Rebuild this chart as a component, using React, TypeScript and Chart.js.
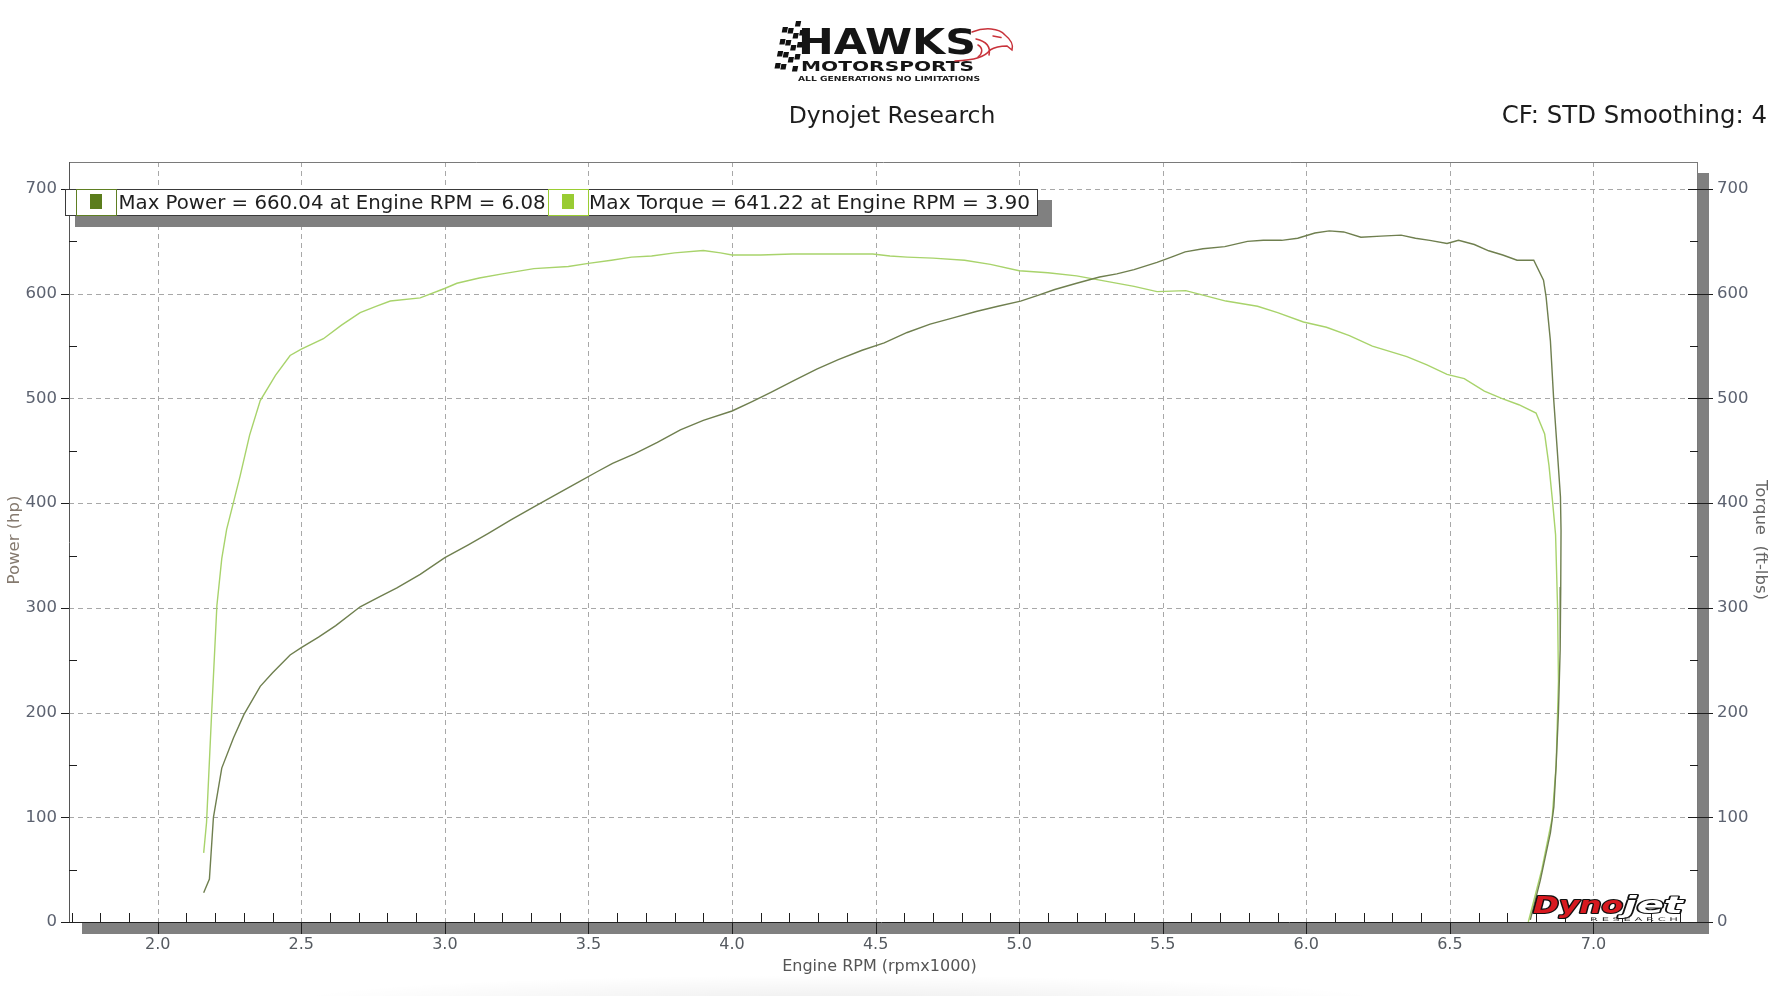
import React, { useEffect, useRef } from 'react';
import { Chart, registerables } from 'chart.js';

Chart.register(...registerables);

// ---------------- data ----------------
const powerRpm = [2.160, 2.180, 2.194, 2.223, 2.264, 2.300, 2.357, 2.400, 2.461, 2.500, 2.560, 2.620, 2.705, 2.775, 2.833, 2.914, 3.000, 3.080, 3.150, 3.230, 3.307, 3.385, 3.465, 3.530, 3.584, 3.660, 3.740, 3.820, 3.900, 4.000, 4.070, 4.137, 4.215, 4.295, 4.370, 4.453, 4.530, 4.610, 4.690, 4.770, 4.850, 4.926, 5.005, 5.060, 5.124, 5.200, 5.280, 5.340, 5.400, 5.480, 5.530, 5.578, 5.640, 5.716, 5.795, 5.850, 5.914, 5.970, 6.030, 6.080, 6.130, 6.190, 6.260, 6.330, 6.380, 6.430, 6.490, 6.530, 6.585, 6.635, 6.684, 6.734, 6.792, 6.826, 6.835, 6.850, 6.861, 6.873, 6.885, 6.887, 6.886, 6.884, 6.878, 6.870, 6.862, 6.850, 6.815, 6.780];
const powerHp = [28, 41, 100, 147, 176, 198, 225, 238, 255, 262, 272, 283, 301, 311, 319, 332, 348, 360, 371, 384, 396, 408, 420, 430, 438, 447, 458, 470, 479, 488, 497, 506, 517, 528, 537, 546, 553, 563, 571, 577, 583, 588, 593, 598, 604, 610, 616, 619, 623, 630, 635, 640, 643, 645, 650, 651, 651, 653, 658, 660.04, 659, 654, 655, 656, 653, 651, 648, 651, 647, 641, 637, 632, 632, 613, 597, 555, 501, 454, 406, 374, 320, 260, 200, 150, 110, 85, 40, 2];

const torqueRpm = [2.160, 2.170, 2.188, 2.206, 2.223, 2.240, 2.264, 2.287, 2.320, 2.357, 2.410, 2.461, 2.500, 2.577, 2.640, 2.705, 2.760, 2.810, 2.914, 2.999, 3.042, 3.120, 3.200, 3.310, 3.430, 3.500, 3.580, 3.650, 3.720, 3.800, 3.900, 3.960, 4.000, 4.100, 4.210, 4.350, 4.490, 4.550, 4.610, 4.700, 4.810, 4.900, 5.000, 5.100, 5.200, 5.300, 5.400, 5.480, 5.580, 5.650, 5.720, 5.830, 5.900, 5.990, 6.070, 6.150, 6.230, 6.350, 6.420, 6.490, 6.550, 6.620, 6.680, 6.740, 6.800, 6.830, 6.845, 6.858, 6.868, 6.875, 6.878, 6.870, 6.856, 6.820, 6.773];
const torqueFtLbs = [66, 95, 201, 302, 347, 375, 401, 426, 465, 498, 522, 541, 547, 557, 570, 582, 588, 593, 596, 605, 610, 615, 619, 624, 626, 629, 632, 635, 636, 639, 641.22, 639, 637, 637, 638, 638, 638, 636, 635, 634, 632, 628, 622, 620, 617, 612, 607, 602, 603, 598, 593, 588, 582, 573, 568, 560, 550, 540, 532, 523, 519, 507, 500, 494, 486, 466, 436, 400, 370, 300, 230, 150, 99, 50, 0];

const xTickValues = [2.0, 2.5, 3.0, 3.5, 4.0, 4.5, 5.0, 5.5, 6.0, 6.5, 7.0];
const yTickValues = [0, 100, 200, 300, 400, 500, 600, 700];
const legendLabels = ['Max Power = 660.04 at Engine RPM = 6.08', 'Max Torque = 641.22 at Engine RPM = 3.90'];
const chartTitle = 'Dynojet Research';
const cfText = 'CF: STD Smoothing: 4';
const xAxisTitle = 'Engine RPM (rpmx1000)';
const yAxisTitle = 'Power (hp)';
const y2AxisTitle = 'Torque  (ft-lbs)';
const logoTitle = 'HAWKS';
const logoSub = 'MOTORSPORTS';
const logoTag = 'ALL GENERATIONS NO LIMITATIONS';

// ---------------- styling ----------------
const X_MIN = 1.691;
const X_MAX = 7.364;
const Y_MAX = 725.8;
const FONT = '"DejaVu Sans", Verdana, sans-serif';
const POWER_COLOR = '#6f7f4f';
const TORQUE_COLOR = '#a8d36b';

function fitText(ctx: CanvasRenderingContext2D, text: string, x: number, y: number, width: number, font: string, fill: string, stroke?: string, strokeW?: number) {
  ctx.save();
  ctx.font = font;
  const w = ctx.measureText(text).width;
  ctx.translate(x, y);
  ctx.scale(width / w, 1);
  ctx.textAlign = 'left';
  ctx.textBaseline = 'alphabetic';
  if (stroke) {
    ctx.lineJoin = 'round';
    ctx.lineWidth = strokeW || 1;
    ctx.strokeStyle = stroke;
    ctx.strokeText(text, 0, 0);
  }
  ctx.fillStyle = fill;
  ctx.fillText(text, 0, 0);
  ctx.restore();
}

const decorPlugin = {
  id: 'decor',
  beforeDraw(chart: any) {
    const ctx: CanvasRenderingContext2D = chart.ctx;
    ctx.save();
    ctx.fillStyle = '#ffffff';
    ctx.fillRect(0, 0, chart.width, chart.height);
    // soft page shadow at the bottom
    ctx.translate(840, 1003);
    ctx.scale(1, 0.05);
    const g = ctx.createRadialGradient(0, 0, 0, 0, 0, 560);
    g.addColorStop(0, 'rgba(0,0,0,0.07)');
    g.addColorStop(1, 'rgba(0,0,0,0)');
    ctx.fillStyle = g;
    ctx.fillRect(-600, -700, 1200, 1400);
    ctx.restore();
  },
  beforeDatasetsDraw(chart: any) {
    const ctx: CanvasRenderingContext2D = chart.ctx;
    const a = chart.chartArea;
    const xs = chart.scales.x;
    const ys = chart.scales.y;
    ctx.save();
    ctx.strokeStyle = '#a8a8a8';
    ctx.lineWidth = 1;
    ctx.setLineDash([5, 4]);
    xTickValues.forEach((v) => {
      const px = Math.round(xs.getPixelForValue(v)) + 0.5;
      ctx.beginPath();
      ctx.moveTo(px, a.top);
      ctx.lineTo(px, a.bottom);
      ctx.stroke();
    });
    yTickValues.forEach((v) => {
      if (v === 0) return;
      const py = Math.round(ys.getPixelForValue(v)) + 0.5;
      ctx.beginPath();
      ctx.moveTo(a.left, py);
      ctx.lineTo(a.right, py);
      ctx.stroke();
    });
    ctx.restore();
  },
  afterDraw(chart: any) {
    const ctx: CanvasRenderingContext2D = chart.ctx;
    const a = chart.chartArea;
    const xs = chart.scales.x;
    const ys = chart.scales.y;
    const L = a.left, R = a.right, T = a.top, B = a.bottom;
    ctx.save();

    // shadow bands (right and bottom)
    ctx.fillStyle = '#808080';
    ctx.fillRect(L + 13, B + 1, R - L - 2, 11);
    ctx.fillRect(R, T + 11, 11, B - T + 1);

    // frame
    ctx.lineWidth = 1;
    ctx.strokeStyle = '#7a7a7a';
    ctx.beginPath();
    ctx.moveTo(L, T + 0.5); ctx.lineTo(R, T + 0.5);
    ctx.moveTo(R - 0.5, T); ctx.lineTo(R - 0.5, B);
    ctx.stroke();
    ctx.strokeStyle = '#555';
    ctx.beginPath();
    ctx.moveTo(L + 0.5, T); ctx.lineTo(L + 0.5, B + 1);
    ctx.stroke();
    ctx.strokeStyle = '#222';
    ctx.beginPath();
    ctx.moveTo(L - 4, B + 0.5); ctx.lineTo(R, B + 0.5);
    ctx.stroke();

    // ticks
    ctx.strokeStyle = '#1e1e1e';
    ctx.beginPath();
    yTickValues.forEach((v) => {
      const py = Math.round(ys.getPixelForValue(v)) + 0.5;
      ctx.moveTo(L - 8, py); ctx.lineTo(L, py);
      ctx.moveTo(R - 10, py); ctx.lineTo(R + 15, py);
    });
    for (let v = 50; v < Y_MAX; v += 100) {
      const py = Math.round(ys.getPixelForValue(v)) + 0.5;
      ctx.moveTo(L, py); ctx.lineTo(L + 8, py);
      ctx.moveTo(R - 8, py); ctx.lineTo(R, py);
    }
    xTickValues.forEach((v) => {
      const px = Math.round(xs.getPixelForValue(v)) + 0.5;
      ctx.moveTo(px, B); ctx.lineTo(px, B + 12);
    });
    for (let i = 17; i <= 73; i++) {
      if (i % 5 === 0) continue;
      const v = i / 10;
      if (v < X_MIN || v > X_MAX) continue;
      const px = Math.round(xs.getPixelForValue(v)) + 0.5;
      ctx.moveTo(px, B - 9); ctx.lineTo(px, B);
    }
    ctx.stroke();

    // legend
    ctx.fillStyle = '#808080';
    ctx.fillRect(75, 200, 977, 27);
    const sw1 = 76;
    const tx1 = 118.5;
    const sw2 = 548;
    const tx2 = 589;
    const boxR = 1038;
    ctx.fillStyle = '#ffffff';
    ctx.fillRect(65, 189, boxR - 65, 27);
    ctx.strokeStyle = '#3a3a3a';
    ctx.strokeRect(65.5, 189.5, boxR - 66, 26);
    ctx.strokeStyle = '#5f7f22';
    ctx.strokeRect(sw1 + 0.5, 189.5, 40, 26);
    ctx.fillStyle = '#5b7d1c';
    ctx.fillRect(sw1 + 14, 194, 12, 15);
    ctx.strokeStyle = '#9acd32';
    ctx.strokeRect(sw2 + 0.5, 189.5, 40, 26);
    ctx.fillStyle = '#99cc33';
    ctx.fillRect(sw2 + 14, 194, 12, 15);
    fitText(ctx, legendLabels[0], tx1, 209, 427, '20px ' + FONT, '#1e1e1e');
    fitText(ctx, legendLabels[1], tx2, 209, 441, '20px ' + FONT, '#1e1e1e');

    // axis titles
    ctx.save();
    ctx.translate(15, 540);
    ctx.rotate(-Math.PI / 2);
    ctx.font = '16.5px ' + FONT;
    ctx.fillStyle = '#857a6f';
    ctx.textAlign = 'center';
    ctx.textBaseline = 'middle';
    ctx.fillText(yAxisTitle, 0, 0);
    ctx.restore();

    ctx.save();
    ctx.translate(1760, 540);
    ctx.rotate(Math.PI / 2);
    ctx.font = '16.5px ' + FONT;
    ctx.fillStyle = '#666';
    ctx.textAlign = 'center';
    ctx.textBaseline = 'middle';
    ctx.fillText(y2AxisTitle, 0, 0);
    ctx.restore();

    ctx.font = '16px ' + FONT;
    ctx.fillStyle = '#555';
    ctx.textAlign = 'center';
    ctx.textBaseline = 'middle';
    ctx.fillText(xAxisTitle, 879.5, 967);

    // header text
    ctx.font = '23.5px ' + FONT;
    ctx.fillStyle = '#1c1c1c';
    ctx.textAlign = 'center';
    ctx.textBaseline = 'alphabetic';
    ctx.fillText(chartTitle, 892, 123);
    ctx.font = '24.4px ' + FONT;
    ctx.textAlign = 'right';
    ctx.fillText(cfText, 1767, 123);

    // Hawks logo: checkered flag
    ctx.save();
    ctx.translate(784, 21);
    ctx.transform(1, 0, -0.2, 1, 0, 0);
    const colOff = [6, 1, 0, 3];
    for (let c = 0; c < 4; c++) {
      for (let r = 0; r < 8; r++) {
        if ((r + c) % 2 !== 0) continue;
        ctx.fillStyle = '#111';
        ctx.fillRect(c * 6, colOff[c] + r * 6, 5.2, 5.4);
      }
    }
    ctx.restore();
    fitText(ctx, logoTitle, 798, 53.5, 178, 'bold 35px ' + FONT, '#151515');
    fitText(ctx, logoSub, 801, 70.5, 173, 'bold 14px ' + FONT, '#151515');
    fitText(ctx, logoTag, 798, 80.5, 182, 'bold 7px ' + FONT, '#202020');
    // hawk head outline
    ctx.strokeStyle = '#c8323a';
    ctx.lineWidth = 1.5;
    ctx.lineCap = 'round';
    ctx.beginPath();
    ctx.moveTo(972, 32); ctx.bezierCurveTo(985, 27, 999, 28, 1005, 35);
    ctx.bezierCurveTo(1010, 39, 1014, 44, 1012, 50);
    ctx.lineTo(1007, 46);
    ctx.bezierCurveTo(1000, 46, 995, 47, 990, 50);
    ctx.stroke();
    ctx.beginPath();
    ctx.moveTo(976, 39); ctx.bezierCurveTo(985, 41, 991, 46, 989, 55);
    ctx.stroke();
    ctx.beginPath();
    ctx.moveTo(990, 50); ctx.bezierCurveTo(985, 57, 975, 60, 955, 61);
    ctx.stroke();
    ctx.beginPath();
    ctx.moveTo(993, 36); ctx.lineTo(1001, 37.5);
    ctx.moveTo(978, 45); ctx.bezierCurveTo(983, 48, 983, 53, 978, 57);
    ctx.stroke();

    // Dynojet logo
    fitText(ctx, 'Dyno', 1533, 913, 90, 'italic bold 23px ' + FONT, '#d7191f', '#111', 2.2);
    fitText(ctx, 'jet', 1623, 913, 60, 'italic bold 23px ' + FONT, '#ffffff', '#111', 2.2);
    fitText(ctx, 'R E S E A R C H', 1590, 921, 88, '5px ' + FONT, '#333');

    ctx.restore();
  },
};

export default function App() {
  const ref = useRef<HTMLCanvasElement | null>(null);
  useEffect(() => {
    if (!ref.current) return;
    const chart = new Chart(ref.current, {
      type: 'line',
      data: {
        datasets: [
          {
            label: 'Power',
            data: powerRpm.map((x, i) => ({ x, y: powerHp[i] })),
            borderColor: POWER_COLOR,
            borderWidth: 1.4,
            pointRadius: 0,
            tension: 0,
            fill: false,
            yAxisID: 'y',
          },
          {
            label: 'Torque',
            data: torqueRpm.map((x, i) => ({ x, y: torqueFtLbs[i] })),
            borderColor: TORQUE_COLOR,
            borderWidth: 1.4,
            pointRadius: 0,
            tension: 0,
            fill: false,
            yAxisID: 'y2',
          },
        ],
      },
      options: {
        responsive: false,
        animation: false,
        devicePixelRatio: 1,
        layout: { padding: { top: 162, left: 0, right: 0, bottom: 0 } },
        plugins: {
          legend: { display: false },
          tooltip: { enabled: false },
          title: { display: false },
        },
        scales: {
          x: {
            type: 'linear',
            position: 'bottom',
            min: X_MIN,
            max: X_MAX,
            afterBuildTicks: (s: any) => { s.ticks = xTickValues.map((v) => ({ value: v })); },
            afterFit: (s: any) => { s.height = 74; },
            grid: { display: false, drawTicks: false },
            border: { display: false },
            ticks: {
              autoSkip: false,
              maxRotation: 0,
              padding: 13,
              color: '#555a60',
              font: { family: FONT, size: 16 },
              callback: (v: any) => Number(v).toFixed(1),
            },
          },
          y: {
            type: 'linear',
            position: 'left',
            min: 0,
            max: Y_MAX,
            afterBuildTicks: (s: any) => { s.ticks = yTickValues.map((v) => ({ value: v })); },
            afterFit: (s: any) => { s.width = 69; },
            grid: { display: false, drawTicks: false },
            border: { display: false },
            ticks: {
              padding: 12,
              color: '#5c6270',
              font: { family: FONT, size: 16.5 },
              callback: (v: any) => String(v),
            },
          },
          y2: {
            type: 'linear',
            position: 'right',
            min: 0,
            max: Y_MAX,
            afterBuildTicks: (s: any) => { s.ticks = yTickValues.map((v) => ({ value: v })); },
            afterFit: (s: any) => { s.width = 80; },
            grid: { display: false, drawTicks: false },
            border: { display: false },
            ticks: {
              padding: 19,
              color: '#5c6270',
              font: { family: FONT, size: 16.5 },
              callback: (v: any) => String(v),
            },
          },
        },
      },
      plugins: [decorPlugin],
    } as any);
    return () => chart.destroy();
  }, []);

  return (
    <div style={{ position: 'fixed', left: 0, top: 0, width: 1778, height: 996, background: '#fff', overflow: 'hidden' }}>
      <canvas ref={ref} width={1778} height={996} style={{ display: 'block', width: 1778, height: 996 }} />
    </div>
  );
}
